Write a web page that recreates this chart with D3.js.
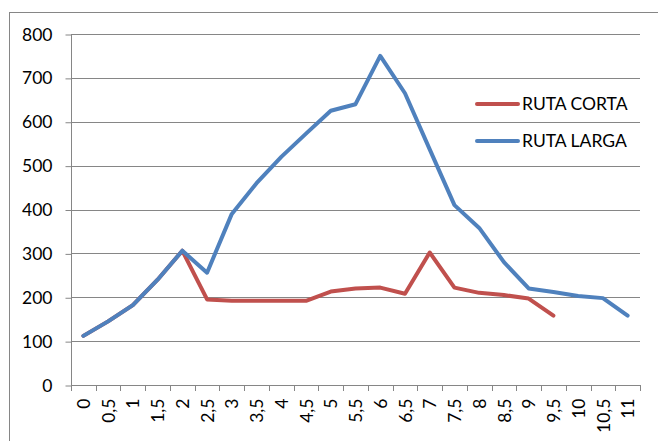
<!DOCTYPE html>
<html><head><meta charset="utf-8">
<script src="https://cdn.jsdelivr.net/npm/d3@7"></script>
<style>body{margin:0;background:#fff}svg{display:block}</style>
</head><body>
<svg id="c" width="658" height="441"></svg>
<script>
const categories = ["0","0,5","1","1,5","2","2,5","3","3,5","4","4,5","5","5,5","6","6,5","7","7,5","8","8,5","9","9,5","10","10,5","11"];
const rutaCorta = [112,145,182,240,306,195,192,192,192,192,213,220,222,208,302,222,210,205,197,158];
const rutaLarga = [112,145,182,240,306,256,390,460,520,573,625,640,750,665,537,410,358,280,220,212,203,198,158];
const yTicks = [0,100,200,300,400,500,600,700,800];
const seriesNames = ["RUTA CORTA","RUTA LARGA"];
const colors = ["#C0504D","#4F81BD"];

const svg = d3.select("#c");
const font = "Lato, 'Open Sans', sans-serif";
const fs = 17.5;
const L = 71, R = 640, T = 34, B = 385;

svg.append("rect").attr("x",9.5).attr("y",12.5).attr("width",700).attr("height",500)
  .attr("fill","none").attr("stroke","#868686").attr("stroke-width",1);

const x = d3.scaleBand().domain(categories).range([L,R]);
const y = d3.scaleLinear().domain([0,800]).range([B,T]);

// gridlines
svg.append("g").selectAll("line").data(yTicks.filter(d=>d>0)).join("line")
  .attr("x1",L).attr("x2",R).attr("y1",d=>Math.round(y(d))+0.5).attr("y2",d=>Math.round(y(d))+0.5)
  .attr("stroke","#868686").attr("stroke-width",1);

// y axis
const ya = svg.append("g").attr("transform",`translate(${L+0.5},0.5)`)
  .call(d3.axisLeft(y).tickValues(yTicks).tickSize(6).tickPadding(13).tickFormat(d3.format("d")));
ya.select(".domain").attr("stroke","#868686").attr("d",`M0,${T}V${B}`);
ya.selectAll(".tick line").attr("stroke","#868686");
ya.selectAll("text").attr("font-family",font).attr("font-size",fs).attr("fill","#000");

// x axis
const xa = svg.append("g").attr("transform",`translate(0.5,${B+0.5})`)
  .call(d3.axisBottom(x).tickSize(0).tickFormat(d=>d));
xa.select(".domain").attr("stroke","#868686").attr("d",`M${L},0H${R}`);
xa.selectAll(".tick line").remove();
const bounds = categories.map(c=>x(c)).concat([R]);
svg.append("g").selectAll("line").data(bounds).join("line")
  .attr("x1",d=>Math.round(d)+0.5).attr("x2",d=>Math.round(d)+0.5).attr("y1",B).attr("y2",B+6)
  .attr("stroke","#868686");
xa.selectAll("text").attr("font-family",font).attr("font-size",fs).attr("fill","#000")
  .attr("text-anchor","end").attr("transform","translate(0,8) rotate(-90)")
  .attr("x",-5).attr("y",0).attr("dy","0.35em");

const line = d3.line().x((d,i)=>x(categories[i])+x.bandwidth()/2).y(d=>y(d));
[rutaCorta, rutaLarga].forEach((s,i)=>{
  svg.append("path").datum(s).attr("d",line).attr("fill","none")
    .attr("stroke",colors[i]).attr("stroke-width",4).attr("stroke-linejoin","round").attr("stroke-linecap","round");
});

// legend
seriesNames.forEach((n,i)=>{
  const ly = 104 + i*37;
  svg.append("line").attr("x1",477).attr("x2",518).attr("y1",ly).attr("y2",ly)
    .attr("stroke",colors[i]).attr("stroke-width",4).attr("stroke-linecap","round");
  svg.append("text").attr("x",522).attr("y",ly).attr("dy","0.35em").text(n)
    .attr("font-family",font).attr("font-size",fs).attr("fill","#000");
});
</script>
</body></html>
